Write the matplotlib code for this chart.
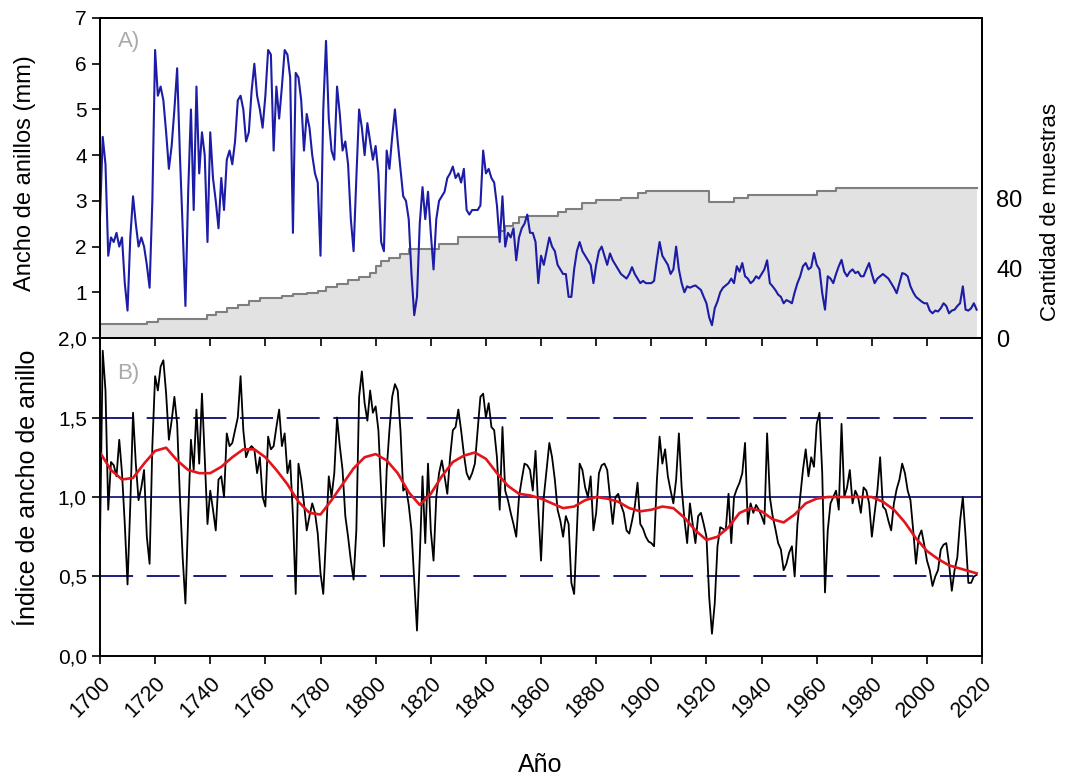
import matplotlib
matplotlib.use("Agg")
import matplotlib.pyplot as plt
import numpy as np

plt.rcParams['font.family'] = ['Liberation Sans', 'DejaVu Sans']

# ---- data ----
first_year = 1700
last_year = 2018

# ring width (mm), one value per year 1700..2018
ancho = [
    2.6, 4.4, 3.8, 1.8, 2.2, 2.1, 2.3, 2.0, 2.2, 1.2,
    0.6, 2.2, 3.1, 2.5, 2.0, 2.2, 2.0, 1.6, 1.1, 3.0,
    6.3, 5.3, 5.5, 5.2, 4.5, 3.7, 4.2, 5.0, 5.9, 4.0,
    2.4, 0.7, 3.2, 5.0, 2.8, 5.5, 3.6, 4.5, 4.0, 2.1,
    4.5, 3.5, 3.0, 2.4, 3.5, 2.8, 3.9, 4.1, 3.8, 4.3,
    5.2, 5.3, 5.0, 4.3, 4.5, 5.4, 6.0, 5.3, 5.0, 4.6,
    5.3, 6.3, 6.2, 4.1, 5.5, 4.8, 5.5, 6.3, 6.2, 5.7,
    2.3, 5.8, 5.7, 5.2, 4.1, 4.9, 4.6, 4.0, 3.6, 3.4,
    1.8, 5.0, 6.5, 4.8, 4.1, 3.9, 5.5, 4.9, 4.1, 4.3,
    3.8, 2.6, 1.9, 3.5, 5.0, 4.6, 4.0, 4.7, 4.3, 3.9,
    4.2, 3.6, 2.1, 1.9, 4.1, 3.7, 4.4, 5.0, 4.3, 3.7,
    3.1, 3.0, 2.6, 1.4, 0.5, 0.9, 2.5, 3.3, 2.6, 3.2,
    2.3, 1.5, 2.6, 3.0, 3.1, 3.2, 3.5, 3.6, 3.75, 3.5,
    3.6, 3.4, 3.7, 2.8, 2.7, 2.8, 2.8, 2.8, 2.9, 4.1,
    3.6, 3.7, 3.5, 3.4, 2.9, 2.1, 3.1, 2.0, 2.3, 2.2,
    2.4, 1.7, 2.2, 2.4, 2.5, 2.7, 2.3, 2.3, 2.1, 1.2,
    1.8, 1.6, 1.9, 2.2, 2.0, 1.9, 1.6, 1.5, 1.4, 1.4,
    0.9, 0.9, 1.5, 1.9, 2.1, 1.9, 1.8, 1.7, 1.6, 1.2,
    1.6, 1.9, 2.0, 1.8, 1.6, 1.85, 1.7, 1.6, 1.5, 1.4,
    1.35, 1.3, 1.4, 1.55, 1.4, 1.3, 1.2, 1.25, 1.2, 1.2,
    1.2, 1.25, 1.7, 2.1, 1.8, 1.7, 1.6, 1.4, 1.5, 2.0,
    1.5, 1.2, 1.0, 1.13, 1.1, 1.13, 1.15, 1.1, 1.05, 0.9,
    0.76, 0.45, 0.28, 0.65, 0.8, 1.0, 1.1, 1.15, 1.2, 1.3,
    1.2, 1.57, 1.45, 1.64, 1.35, 1.3, 1.2, 1.25, 1.35, 1.3,
    1.4, 1.5, 1.7, 1.2, 1.13, 1.05, 0.95, 0.9, 0.76, 0.83,
    0.8, 0.76, 1.0, 1.2, 1.35, 1.57, 1.64, 1.5, 1.55, 1.86,
    1.6, 1.5, 0.98, 0.62, 1.35, 1.3, 1.2, 1.4, 1.57, 1.71,
    1.45, 1.35, 1.45, 1.5, 1.42, 1.45, 1.35, 1.35, 1.5, 1.64,
    1.4, 1.2, 1.3, 1.35, 1.4, 1.35, 1.3, 1.2, 1.1, 0.98,
    1.2, 1.42, 1.4, 1.35, 1.13, 1.0, 0.9, 0.85, 0.8, 0.76,
    0.76, 0.6, 0.54, 0.6, 0.58, 0.65, 0.76, 0.7, 0.54, 0.6,
    0.62, 0.7, 0.76, 1.13, 0.62, 0.6, 0.65, 0.76, 0.62,
]

# ring width index, one value per year 1700..2018
indice = [
    0.71, 1.92, 1.67, 0.92, 1.22, 1.2, 1.13, 1.36, 1.15, 0.83,
    0.45, 0.95, 1.53, 1.21, 0.98, 1.06, 1.17, 0.75, 0.58, 1.32,
    1.76, 1.67, 1.82, 1.86, 1.65, 1.36, 1.48, 1.63, 1.46, 1.0,
    0.62, 0.33, 0.88, 1.36, 1.17, 1.55, 1.21, 1.65, 1.25, 0.83,
    1.04, 0.92, 0.79, 1.11, 1.13, 1.0, 1.4, 1.32, 1.34, 1.42,
    1.5, 1.76, 1.42, 1.25, 1.3, 1.32, 1.3, 1.15, 1.25, 1.0,
    0.94, 1.38, 1.3, 1.32, 1.44, 1.55, 1.32, 1.4, 1.15, 1.23,
    0.88, 0.39, 1.21, 1.11, 0.96, 0.79, 0.88, 0.96, 0.9, 0.77,
    0.52, 0.39, 0.75, 1.13, 1.0, 1.15, 1.5, 1.32, 1.17, 0.88,
    0.75, 0.6, 0.48, 0.79, 1.63, 1.79, 1.59, 1.48, 1.67, 1.53,
    1.57, 1.42, 1.04, 0.69, 1.17, 1.42, 1.63, 1.71, 1.67, 1.42,
    1.04, 1.06, 0.95, 0.79, 0.48, 0.16, 0.62, 1.13, 0.71, 1.21,
    0.79, 0.6, 1.0, 1.15, 1.23, 1.13, 1.02, 1.25, 1.42, 1.44,
    1.55, 1.42, 1.27, 1.15, 1.11, 1.15, 1.21, 1.42, 1.63, 1.65,
    1.5, 1.59, 1.44, 1.42, 1.25, 0.92, 1.44, 1.04, 0.98, 0.9,
    0.83, 0.75, 1.0, 1.11, 1.21, 1.2, 1.17, 1.04, 1.29, 0.92,
    0.6, 1.0, 1.17, 1.34, 1.25, 1.11, 0.92, 0.85, 0.75, 0.88,
    0.83, 0.46, 0.39, 0.79, 1.21, 1.17, 1.06, 1.0, 1.13, 0.79,
    0.9, 1.15, 1.2, 1.21, 1.17, 1.0, 0.83, 1.0, 1.02, 0.95,
    0.9, 0.79, 0.77, 0.85, 0.94, 1.09, 0.83, 0.8, 0.75, 0.72,
    0.71, 0.69, 1.1, 1.38, 1.21, 1.3, 1.13, 1.04, 0.96, 1.11,
    1.4, 1.06, 0.86, 0.71, 0.96, 0.83, 0.71, 0.88, 0.9, 0.83,
    0.75, 0.37, 0.14, 0.33, 0.69, 0.81, 0.8, 0.79, 1.02, 0.71,
    1.0, 1.05, 1.09, 1.15, 1.34, 0.83, 0.96, 0.9, 0.95, 0.92,
    0.88, 0.83, 1.4, 1.0, 0.88, 0.8, 0.71, 0.67, 0.54, 0.58,
    0.65, 0.69, 0.5, 0.83, 1.0, 1.17, 1.3, 1.13, 1.25, 1.19,
    1.46, 1.53, 1.15, 0.4, 0.79, 0.96, 1.0, 1.04, 0.92, 1.46,
    1.0, 1.06, 1.17, 0.96, 1.04, 1.0, 0.9, 1.06, 1.04, 0.96,
    0.75, 0.9, 1.04, 1.25, 0.94, 0.92, 0.85, 0.79, 0.96, 1.05,
    1.11, 1.21, 1.15, 1.04, 0.98, 0.79, 0.58, 0.75, 0.79, 0.7,
    0.6, 0.54, 0.44, 0.5, 0.54, 0.67, 0.7, 0.71, 0.58, 0.41,
    0.54, 0.62, 0.85, 1.0, 0.75, 0.46, 0.46, 0.5, 0.51,
]

# smoothing spline, every 4 years (plus the last year)
spline_years = list(range(1700, 2017, 4)) + [2018]
spline = [
    1.28, 1.17, 1.11, 1.12, 1.21, 1.29, 1.31, 1.23, 1.17, 1.15,
    1.15, 1.19, 1.25, 1.30, 1.30, 1.25, 1.17, 1.08, 0.97, 0.90,
    0.89, 0.98, 1.08, 1.18, 1.25, 1.27, 1.23, 1.15, 1.03, 0.95,
    1.02, 1.13, 1.22, 1.26, 1.28, 1.24, 1.15, 1.07, 1.02, 1.01,
    0.99, 0.96, 0.93, 0.94, 0.98, 1.00, 0.99, 0.97, 0.93, 0.91,
    0.92, 0.94, 0.93, 0.87, 0.79, 0.73, 0.75, 0.81, 0.90, 0.93,
    0.91, 0.86, 0.84, 0.89, 0.96, 0.99, 1.00, 1.00, 1.00, 1.00,
    1.00, 0.97, 0.92, 0.84, 0.74, 0.66, 0.61, 0.57, 0.55, 0.53,
    0.52,
]

# sample depth, step changes (year, number of samples)
depth_years = [1700, 1717, 1721, 1739, 1742, 1746, 1750, 1754, 1758, 1766,
               1770, 1775, 1779, 1782, 1786, 1790, 1794, 1798, 1800, 1802,
               1805, 1809, 1812, 1823, 1830, 1845, 1847, 1850, 1852, 1855,
               1866, 1869, 1875, 1880, 1889, 1895, 1898, 1921, 1930, 1935,
               1960, 1967, 2018]
depth = [8, 9, 11, 13, 15, 17, 19, 21, 23, 24,
         25, 26, 27, 29, 31, 33, 35, 37, 41, 44,
         46, 48, 51, 54, 58, 61, 64, 66, 69, 70,
         72, 74, 77, 79, 80, 83, 84, 78, 80, 82,
         84, 86, 86]

xticks = list(range(1700, 2021, 20))

years = np.arange(first_year, last_year + 1)
assert len(ancho) == len(years) and len(indice) == len(years)

fig = plt.figure(figsize=(10.68, 7.79), dpi=100)
ax_a = fig.add_axes([0.0936, 0.5661, 0.826, 0.4108])
ax_b = fig.add_axes([0.0936, 0.1579, 0.826, 0.4082])
ax_n = ax_a.twinx()
ax_a.set_zorder(ax_n.get_zorder() + 1)
ax_a.patch.set_visible(False)

# --- panel A ---
ax_n.fill_between(depth_years, depth, step='post', color='#e2e2e2', lw=0)
ax_n.step(depth_years, depth, where='post', color='#7f7f7f', lw=1.5)
ax_n.set_ylim(0, 183)
ax_n.set_yticks([0, 40, 80])
ax_n.tick_params(axis='y', length=0, pad=10, labelsize=17)
ax_n.set_ylabel('Cantidad de muestras', fontsize=16)
ax_n.yaxis.set_label_coords(1.066, 0.395)

ax_a.plot(years, ancho, color='#1c1ca6', lw=1.5)
ax_a.set_xlim(1700, 2020)
ax_a.set_ylim(0, 7)
ax_a.set_yticks(range(1, 8))
ax_a.set_xticks(xticks)
ax_a.tick_params(axis='x', labelbottom=False, direction='out', length=6, width=1.2)
ax_a.tick_params(axis='y', direction='out', length=6, width=1.2, labelsize=15)
ax_a.set_ylabel('Ancho de anillos (mm)', fontsize=17)
ax_a.yaxis.set_label_coords(-0.072, 0.515)
ax_a.text(0.02, 0.91, 'A)', transform=ax_a.transAxes, color='#aaaaaa', fontsize=16)

# --- panel B ---
ax_b.axhline(1.0, color='#1b1b80', lw=1.3)
for lvl in (0.5, 1.5):
    ax_b.axhline(lvl, color='#1b1b80', lw=1.4, dashes=(17, 7))
ax_b.plot(years, indice, color='black', lw=1.3)
ax_b.plot(spline_years, spline, color='#e3141b', lw=1.9)
ax_b.set_xlim(1700, 2020)
ax_b.set_ylim(0, 2)
ax_b.set_yticks([0, 0.5, 1.0, 1.5, 2.0])
ax_b.set_yticklabels(['0,0', '0,5', '1,0', '1,5', '2,0'])
ax_b.set_xticks(xticks)
ax_b.set_xticklabels([str(t) for t in xticks], rotation=45, ha='right', va='top',
                     rotation_mode='anchor')
ax_b.tick_params(axis='both', direction='out', length=6, width=1.2, labelsize=15)
ax_b.tick_params(axis='x', pad=6, labelsize=15.5)
ax_b.set_ylabel('Índice de ancho de anillo', fontsize=18)
ax_b.yaxis.set_label_coords(-0.068, 0.53)
ax_b.text(0.02, 0.87, 'B)', transform=ax_b.transAxes, color='#aaaaaa', fontsize=16)

for ax in (ax_a, ax_b, ax_n):
    for s in ax.spines.values():
        s.set_linewidth(1.4)

fig.text(0.506, 0.018, 'Año', ha='center', va='center', fontsize=18)

fig.savefig('out.png', dpi=100)
